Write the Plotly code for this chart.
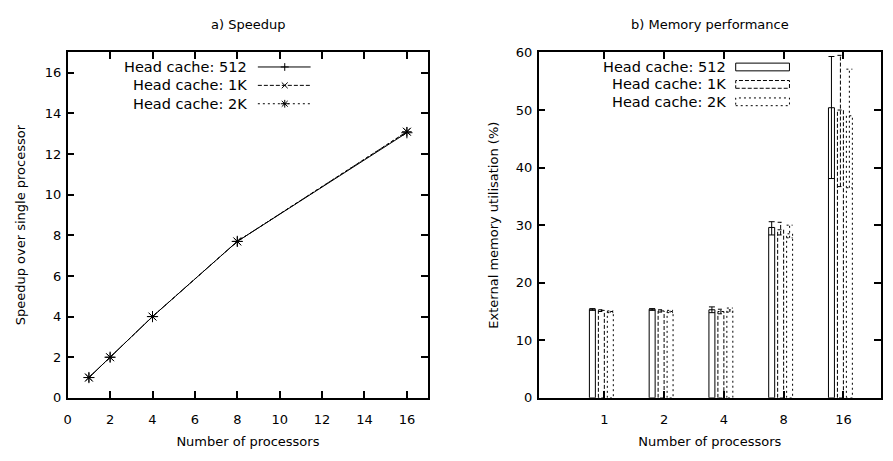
import plotly.graph_objects as go

W, H = 893, 461

# ---------------- data ----------------
procs = [1, 2, 4, 8, 16]
speed_512 = [1.0, 2.0, 4.0, 7.7, 13.05]
speed_1k = [1.0, 2.0, 4.0, 7.7, 13.1]
speed_2k = [1.0, 2.0, 4.0, 7.7, 13.1]

proc_labels = ["1", "2", "4", "8", "16"]
mem_512 = [15.4, 15.4, 15.3, 29.6, 50.4]
lo_512 = [15.2, 15.2, 14.8, 28.3, 38.1]
hi_512 = [15.5, 15.5, 15.8, 30.6, 59.3]
mem_1k = [15.2, 15.1, 15.0, 29.2, 50.0]
lo_1k = [15.0, 14.9, 14.6, 28.3, 36.7]
hi_1k = [15.3, 15.3, 15.4, 30.5, 59.5]
mem_2k = [15.0, 15.0, 15.3, 28.5, 49.0]
lo_2k = [14.8, 14.8, 14.9, 27.8, 36.5]
hi_2k = [15.1, 15.2, 15.6, 30.0, 57.1]

series_names = ["Head cache: 512", "Head cache: 1K", "Head cache: 2K"]

# ---------------- style ----------------
FONT = "DejaVu Sans"
FS = 13
DASHES = ["solid", "4px,2px", "2px,3px"]
SYMBOLS = ["cross-thin-open", "x-thin-open", "asterisk-open"]


def pxx(x):
    return x / W


def pxy(y):
    return 1 - y / H


LEFT = (64, 426)
RIGHT = (537, 881)
TOP, BOT = 47, 404

fig = go.Figure()

# left plot
for vals, dash, sym, name in zip([speed_512, speed_1k, speed_2k], DASHES, SYMBOLS, series_names):
    fig.add_trace(go.Scatter(
        x=procs, y=vals, mode="lines+markers", name=name,
        line=dict(color="black", width=1, dash=dash),
        marker=dict(symbol=sym, size=8, color="black", line=dict(color="black", width=1)),
        xaxis="x", yaxis="y", showlegend=False))

# right plot: boxes with error bars
offsets = [-0.2, -0.05, 0.1]
bw = 0.1
for k, (vals, lo, hi) in enumerate([(mem_512, lo_512, hi_512), (mem_1k, lo_1k, hi_1k), (mem_2k, lo_2k, hi_2k)]):
    bx, by, ex, ey = [], [], [], []
    for i, v in enumerate(vals):
        c = i + offsets[k]
        l, r = c - bw / 2, c + bw / 2
        bx += [l, l, r, r, l, None]
        by += [0, v, v, 0, 0, None]
        ex += [c, c, None, l, r, None, l, r, None]
        ey += [lo[i], hi[i], None, lo[i], lo[i], None, hi[i], hi[i], None]
    fig.add_trace(go.Scatter(x=bx, y=by, mode="lines", line=dict(color="black", width=1, dash=DASHES[k]),
                             xaxis="x2", yaxis="y2", showlegend=False, hoverinfo="skip"))
    fig.add_trace(go.Scatter(x=ex, y=ey, mode="lines", line=dict(color="black", width=1, dash=DASHES[k]),
                             xaxis="x2", yaxis="y2", showlegend=False, hoverinfo="skip"))

axis_common = dict(showline=True, linecolor="black", linewidth=1.5, mirror="ticks", ticks="inside",
                   ticklen=7, tickcolor="black", tickwidth=1.5, showgrid=False, zeroline=False,
                   tickfont=dict(family=FONT, size=FS, color="black"))
title_font = dict(family=FONT, size=13, color="black")

fig.update_layout(
    width=W, height=H, margin=dict(l=0, r=0, t=0, b=0),
    paper_bgcolor="white", plot_bgcolor="white",
    font=dict(family=FONT, size=FS, color="black"),
    xaxis=dict(domain=[pxx(LEFT[0]), pxx(LEFT[1])], range=[0, 17], tickvals=list(range(0, 17, 2)),
               anchor="y", ticklabelstandoff=9,
               title=dict(text="Number of processors", standoff=11, font=title_font), **axis_common),
    yaxis=dict(domain=[pxy(BOT), pxy(TOP)], range=[0, 17], tickvals=list(range(0, 17, 2)),
               anchor="x", ticklabelstandoff=2,
               title=dict(text="Speedup over single processor", standoff=16, font=title_font),
               **axis_common),
    xaxis2=dict(domain=[pxx(RIGHT[0]), pxx(RIGHT[1])], range=[-1.1, 4.63], tickvals=list(range(5)),
                ticktext=proc_labels, anchor="y2", ticklabelstandoff=9,
                title=dict(text="Number of processors", standoff=11, font=title_font), **axis_common),
    yaxis2=dict(domain=[pxy(BOT), pxy(TOP)], range=[0, 60], tickvals=list(range(0, 61, 10)),
                anchor="x2", ticklabelstandoff=2,
                title=dict(text="External memory utilisation (%)", standoff=14, font=title_font),
                **axis_common),
)

annotations = [
    dict(text="a) Speedup", x=pxx(245), y=pxy(18), xref="paper", yref="paper", showarrow=False,
         xanchor="center", yanchor="middle", font=dict(family=FONT, size=13)),
    dict(text="b) Memory performance", x=pxx(709), y=pxy(18), xref="paper", yref="paper", showarrow=False,
         xanchor="center", yanchor="middle", font=dict(family=FONT, size=13)),
]
shapes = []

LEG_FONT = dict(family=FONT, size=14.5, color="black")

# left legend
rows_l = [62, 81, 100]
for k, name in enumerate(series_names):
    yy = rows_l[k]
    annotations.append(dict(text=name, x=pxx(246), y=pxy(yy), xref="paper", yref="paper", showarrow=False,
                            xanchor="right", yanchor="middle", font=LEG_FONT))
    shapes.append(dict(type="line", xref="paper", yref="paper", x0=pxx(255), x1=pxx(308), y0=pxy(yy), y1=pxy(yy),
                       line=dict(color="black", width=1, dash=DASHES[k])))
    cx = 282
    segs = []
    if k in (0, 2):
        segs += [((cx - 4, yy), (cx + 4, yy)), ((cx, yy - 4), (cx, yy + 4))]
    if k in (1, 2):
        segs += [((cx - 3, yy - 3), (cx + 3, yy + 3)), ((cx - 3, yy + 3), (cx + 3, yy - 3))]
    for (a, b) in segs:
        shapes.append(dict(type="line", xref="paper", yref="paper", x0=pxx(a[0]), y0=pxy(a[1]),
                           x1=pxx(b[0]), y1=pxy(b[1]), line=dict(color="black", width=1)))

# right legend
rows_r = [62, 80, 98]
for k, name in enumerate(series_names):
    yy = rows_r[k]
    annotations.append(dict(text=name, x=pxx(727), y=pxy(yy), xref="paper", yref="paper", showarrow=False,
                            xanchor="right", yanchor="middle", font=LEG_FONT))
    shapes.append(dict(type="rect", xref="paper", yref="paper", x0=pxx(735), x1=pxx(789),
                       y0=pxy(yy + 4), y1=pxy(yy - 4), line=dict(color="black", width=1, dash=DASHES[k])))

fig.update_layout(annotations=annotations, shapes=shapes)
fig.write_html("out.html")
